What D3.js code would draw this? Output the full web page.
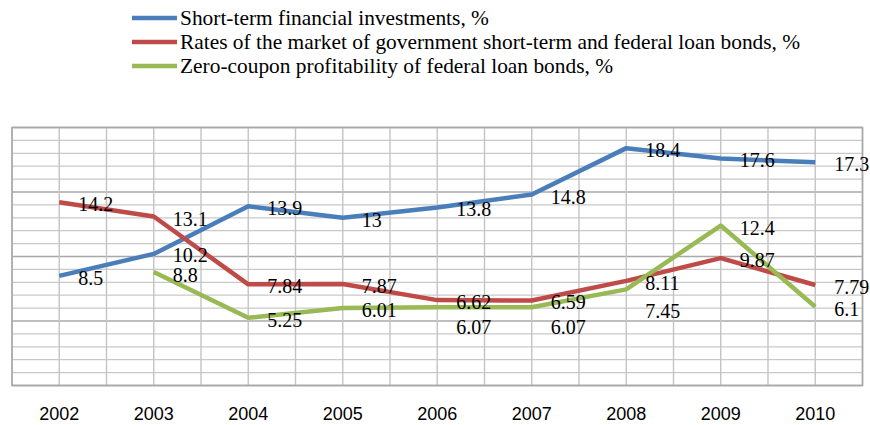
<!DOCTYPE html>
<html>
<head>
<meta charset="utf-8">
<script src="https://cdn.jsdelivr.net/npm/d3@7"></script>
<style>
  html, body { margin: 0; padding: 0; background: #fff; }
  svg { display: block; }
</style>
</head>
<body>
<svg id="chart" width="870" height="425"></svg>
<script>
// ---- data ----
const years = ["2002", "2003", "2004", "2005", "2006", "2007", "2008", "2009", "2010"];
const shortTermInvestments = [8.5, 10.2, 13.9, 13, 13.8, 14.8, 18.4, 17.6, 17.3];
const govBondRates = [14.2, 13.1, 7.84, 7.87, 6.62, 6.59, 8.11, 9.87, 7.79];
const zeroCouponYield = [null, 8.8, 5.25, 6.01, 6.07, 6.07, 7.45, 12.4, 6.1];
const seriesNames = [
  "Short-term financial investments, %",
  "Rates of the market of government short-term and federal loan bonds, %",
  "Zero-coupon profitability of federal loan bonds, %"
];
const yTicks = [0, 5, 10, 15, 20];

// ---- styles / layout ----
const colors = ["#4a7ebb", "#be4b48", "#98b954"];
const margin = { left: 12, right: 7.5, top: 127.5, bottom: 39.5 };
const W = 870, H = 425;
const svg = d3.select("#chart");

const x = d3.scaleBand().domain(years).range([margin.left, W - margin.right]).padding(0);
const y = d3.scaleLinear().domain([0, 20]).range([H - margin.bottom, margin.top]);
const cx = d => x(d) + x.bandwidth() / 2;

// label vertical nudges for crowded points (series index -> year index -> px)
const labelNudge = { 0: { 1: -1 }, 2: { 1: 1, 4: 18, 5: 18, 6: 20 } };

// ---- gridlines ----
const grid = svg.append("g");
grid.selectAll("line.h").data(d3.range(0, 21, 1)).join("line")
  .attr("x1", margin.left).attr("x2", W - margin.right)
  .attr("y1", d => y(d)).attr("y2", d => y(d))
  .attr("stroke", d => yTicks.includes(d) ? "#a8a8a8" : "#c9c9c9")
  .attr("stroke-width", d => yTicks.includes(d) ? 1.6 : 1.3);
const vPos = [];
years.forEach(yr => { vPos.push(x(yr)); vPos.push(cx(yr)); });
vPos.push(W - margin.right);
grid.selectAll("line.v").data(vPos).join("line")
  .attr("x1", d => d).attr("x2", d => d)
  .attr("y1", y(20)).attr("y2", y(0))
  .attr("stroke", "#c4c4c4").attr("stroke-width", 1.4);
grid.append("rect")
  .attr("x", margin.left).attr("y", y(20))
  .attr("width", W - margin.right - margin.left).attr("height", y(0) - y(20))
  .attr("fill", "none").attr("stroke", "#a8a8a8").attr("stroke-width", 1.6);

// ---- x axis ----
const xAxis = d3.axisBottom(x).tickSize(0).tickPadding(0);
const gx = svg.append("g").attr("transform", `translate(0, ${y(0)})`).call(xAxis);
gx.select(".domain").remove();
gx.selectAll("text")
  .attr("y", 34).attr("dy", 0)
  .style("font-family", "'Liberation Sans', Arial, sans-serif")
  .style("font-size", "18px").attr("fill", "#000");

// ---- lines ----
const allSeries = [shortTermInvestments, govBondRates, zeroCouponYield];
const line = d3.line()
  .defined(d => d.v !== null)
  .x(d => cx(d.year)).y(d => y(d.v));

allSeries.forEach((vals, si) => {
  const pts = vals.map((v, i) => ({ year: years[i], v, i }));
  svg.append("path").datum(pts)
    .attr("d", line)
    .attr("fill", "none").attr("stroke", colors[si])
    .attr("stroke-width", 4.5).attr("stroke-linejoin", "round");
});

// ---- data labels ----
allSeries.forEach((vals, si) => {
  const pts = vals.map((v, i) => ({ year: years[i], v, i })).filter(d => d.v !== null);
  svg.append("g").selectAll("text").data(pts).join("text")
    .attr("x", d => cx(d.year) + 19)
    .attr("y", d => y(d.v) + 9 + ((labelNudge[si] && labelNudge[si][d.i]) || 0))
    .style("font-family", "'Liberation Serif', 'Times New Roman', serif")
    .style("font-size", "20px").attr("fill", "#000")
    .text(d => d.v);
});

// ---- legend ----
const legendY = [18, 42, 66];
const lg = svg.append("g");
seriesNames.forEach((name, i) => {
  lg.append("line").attr("x1", 132).attr("x2", 177)
    .attr("y1", legendY[i]).attr("y2", legendY[i])
    .attr("stroke", colors[i]).attr("stroke-width", 4.5);
  lg.append("text").attr("x", 180).attr("y", legendY[i] + 7)
    .style("font-family", "'Liberation Serif', 'Times New Roman', serif")
    .style("font-size", "21.4px").attr("fill", "#000")
    .text(name);
});
</script>
</body>
</html>
